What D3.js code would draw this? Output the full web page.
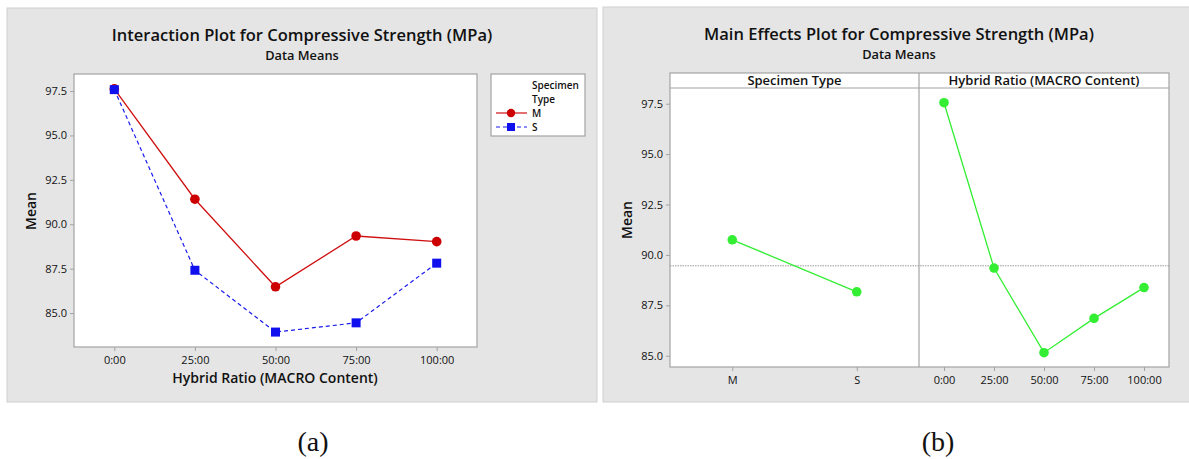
<!DOCTYPE html>
<html>
<head>
<meta charset="utf-8">
<script src="https://cdn.jsdelivr.net/npm/d3@7"></script>
<style>
  body { margin: 0; background: #fff; }
  text { font-family: "Open Sans", "Noto Sans", sans-serif; fill: #111; }
</style>
</head>
<body>
<div id="root"></div>
<script>
// data
var ratios = ["0:00", "25:00", "50:00", "75:00", "100:00"];
var specimens = ["M", "S"];
var meanM = [97.62, 91.41, 86.48, 89.34, 89.02];
var meanS = [97.58, 87.41, 83.93, 84.45, 87.81];
var yTicks = [85.0, 87.5, 90.0, 92.5, 95.0, 97.5];
var specimenMeans = [90.75, 88.17];
var ratioMeans = [97.55, 89.35, 85.15, 86.85, 88.38];
var grandMean = 89.46;

var W = 1189, H = 459;
var svg = d3.select("#root").append("svg")
  .attr("width", W).attr("height", H);

var fmt = d3.format(".1f");
var frameCol = "#a3a3a3";

// ---------- (a) interaction plot ----------
svg.append("rect").attr("x", 7).attr("y", 8).attr("width", 590).attr("height", 394)
  .attr("fill", "#e5e5e5").attr("stroke", "#cfcfcf");

var a = { left: 74, right: 477, top: 74, bottom: 347 };
var xa = d3.scalePoint().domain(ratios).range([a.left, a.right]).padding(0.5);
var ya = d3.scaleLinear().domain([83.09, 98.46]).range([a.bottom, a.top]);

svg.append("rect").attr("x", a.left).attr("y", a.top)
  .attr("width", a.right - a.left).attr("height", a.bottom - a.top)
  .attr("fill", "#fff").attr("stroke", frameCol).attr("stroke-width", 1.2);

var gyA = svg.append("g").attr("transform", "translate(" + a.left + ",0)")
  .call(d3.axisLeft(ya).tickValues(yTicks).tickFormat(fmt).tickSize(4).tickPadding(3));
var gxA = svg.append("g").attr("transform", "translate(0," + a.bottom + ")")
  .call(d3.axisBottom(xa).tickSize(4).tickPadding(5));
[gyA, gxA].forEach(function(g) {
  g.select(".domain").remove();
  g.selectAll("line").attr("stroke", frameCol);
  g.selectAll("text").attr("font-size", "11px").attr("fill", "#111");
});

var lineA = d3.line().x(function(d, i) { return xa(ratios[i]); }).y(function(d) { return ya(d); });

svg.append("path").datum(meanM).attr("d", lineA)
  .attr("fill", "none").attr("stroke", "#d01010").attr("stroke-width", 1.3);
svg.append("path").datum(meanS).attr("d", lineA)
  .attr("fill", "none").attr("stroke", "#1a1aee").attr("stroke-width", 1.2)
  .attr("stroke-dasharray", "4,3");

svg.selectAll(".ptM").data(meanM).enter().append("circle")
  .attr("cx", function(d, i) { return xa(ratios[i]); })
  .attr("cy", function(d) { return ya(d); })
  .attr("r", 4.8).attr("fill", "#cc0000");
svg.selectAll(".ptS").data(meanS).enter().append("rect")
  .attr("x", function(d, i) { return xa(ratios[i]) - 4.5; })
  .attr("y", function(d) { return ya(d) - 4.5; })
  .attr("width", 9).attr("height", 9).attr("fill", "#1010ee");

svg.append("text").attr("x", 302).attr("y", 41).attr("text-anchor", "middle")
  .attr("font-size", "16.5px").attr("font-weight", 600)
  .text("Interaction Plot for Compressive Strength (MPa)");
svg.append("text").attr("x", 302).attr("y", 60).attr("text-anchor", "middle")
  .attr("font-size", "12.8px").attr("font-weight", 600).text("Data Means");
svg.append("text").attr("transform", "translate(36,211) rotate(-90)")
  .attr("text-anchor", "middle").attr("font-size", "14px").attr("font-weight", 600).text("Mean");
svg.append("text").attr("x", 275).attr("y", 383).attr("text-anchor", "middle")
  .attr("font-size", "14px").attr("font-weight", 600).text("Hybrid Ratio (MACRO Content)");

// legend
var lg = svg.append("g");
lg.append("rect").attr("x", 491).attr("y", 74).attr("width", 94).attr("height", 62)
  .attr("fill", "#fff").attr("stroke", frameCol).attr("stroke-width", 1.2);
lg.append("text").attr("x", 532).attr("y", 89).attr("font-size", "10px").attr("font-weight", 600).text("Specimen");
lg.append("text").attr("x", 532).attr("y", 103).attr("font-size", "10px").attr("font-weight", 600).text("Type");
var legY = d3.scalePoint().domain(specimens).range([113, 127]);
specimens.forEach(function(s, i) {
  var yy = legY(s);
  lg.append("line").attr("x1", 496).attr("x2", 527).attr("y1", yy).attr("y2", yy)
    .attr("stroke", i === 0 ? "#d01010" : "#1a1aee").attr("stroke-width", 1.2)
    .attr("stroke-dasharray", i === 0 ? null : "4,3");
  if (i === 0) lg.append("circle").attr("cx", 511).attr("cy", yy).attr("r", 4.2).attr("fill", "#cc0000");
  else lg.append("rect").attr("x", 507).attr("y", yy - 4).attr("width", 8).attr("height", 8).attr("fill", "#1010ee");
  lg.append("text").attr("x", 532).attr("y", yy + 3.5).attr("font-size", "10px").attr("font-weight", 600).text(s);
});

// ---------- (b) main effects plot ----------
svg.append("rect").attr("x", 603).attr("y", 7).attr("width", 590).attr("height", 395)
  .attr("fill", "#e5e5e5").attr("stroke", "#cfcfcf");

var b = { left: 670, mid: 919, right: 1169, top: 73, strip: 88, bottom: 367 };
var yb = d3.scaleLinear().domain([84.44, 98.28]).range([b.bottom, b.strip]);
var xb1 = d3.scalePoint().domain(specimens).range([b.left, b.mid]).padding(0.5);
var xb2 = d3.scalePoint().domain(ratios).range([b.mid, b.right]).padding(0.5);

svg.append("rect").attr("x", b.left).attr("y", b.top)
  .attr("width", b.right - b.left).attr("height", b.bottom - b.top)
  .attr("fill", "#fff").attr("stroke", frameCol).attr("stroke-width", 1.2);
svg.append("line").attr("x1", b.left).attr("x2", b.right).attr("y1", b.strip).attr("y2", b.strip)
  .attr("stroke", frameCol).attr("stroke-width", 1.2);
svg.append("line").attr("x1", b.mid).attr("x2", b.mid).attr("y1", b.top).attr("y2", b.bottom)
  .attr("stroke", frameCol).attr("stroke-width", 1.2);

svg.append("text").attr("x", (b.left + b.mid) / 2).attr("y", 85).attr("text-anchor", "middle")
  .attr("font-size", "13px").attr("font-weight", 600).text("Specimen Type");
svg.append("text").attr("x", (b.mid + b.right) / 2).attr("y", 85).attr("text-anchor", "middle")
  .attr("font-size", "13px").attr("font-weight", 600).text("Hybrid Ratio (MACRO Content)");

// grand mean reference line
svg.append("line").attr("x1", b.left).attr("x2", b.right)
  .attr("y1", yb(grandMean)).attr("y2", yb(grandMean))
  .attr("stroke", "#9a9a9a").attr("stroke-width", 1).attr("stroke-dasharray", "1.5,1");

var gyB = svg.append("g").attr("transform", "translate(" + b.left + ",0)")
  .call(d3.axisLeft(yb).tickValues(yTicks).tickFormat(fmt).tickSize(4).tickPadding(3));
var gxB1 = svg.append("g").attr("transform", "translate(0," + b.bottom + ")")
  .call(d3.axisBottom(xb1).tickSize(4).tickPadding(5));
var gxB2 = svg.append("g").attr("transform", "translate(0," + b.bottom + ")")
  .call(d3.axisBottom(xb2).tickSize(4).tickPadding(5));
[gyB, gxB1, gxB2].forEach(function(g) {
  g.select(".domain").remove();
  g.selectAll("line").attr("stroke", frameCol);
  g.selectAll("text").attr("font-size", "11px").attr("fill", "#111");
});

var green = "#33ee33";
var line1 = d3.line().x(function(d, i) { return xb1(specimens[i]); }).y(function(d) { return yb(d); });
var line2 = d3.line().x(function(d, i) { return xb2(ratios[i]); }).y(function(d) { return yb(d); });
svg.append("path").datum(specimenMeans).attr("d", line1)
  .attr("fill", "none").attr("stroke", green).attr("stroke-width", 1.3);
svg.append("path").datum(ratioMeans).attr("d", line2)
  .attr("fill", "none").attr("stroke", green).attr("stroke-width", 1.3);
svg.selectAll(".pb1").data(specimenMeans).enter().append("circle")
  .attr("cx", function(d, i) { return xb1(specimens[i]); })
  .attr("cy", function(d) { return yb(d); })
  .attr("r", 4.8).attr("fill", green);
svg.selectAll(".pb2").data(ratioMeans).enter().append("circle")
  .attr("cx", function(d, i) { return xb2(ratios[i]); })
  .attr("cy", function(d) { return yb(d); })
  .attr("r", 4.8).attr("fill", green);

svg.append("text").attr("x", 899).attr("y", 40).attr("text-anchor", "middle")
  .attr("font-size", "16.5px").attr("font-weight", 600)
  .text("Main Effects Plot for Compressive Strength (MPa)");
svg.append("text").attr("x", 899).attr("y", 59).attr("text-anchor", "middle")
  .attr("font-size", "12.8px").attr("font-weight", 600).text("Data Means");
svg.append("text").attr("transform", "translate(632,220) rotate(-90)")
  .attr("text-anchor", "middle").attr("font-size", "14px").attr("font-weight", 600).text("Mean");

// captions
svg.append("text").attr("x", 313).attr("y", 451).attr("text-anchor", "middle")
  .style("font-family", "'Liberation Serif', serif").attr("font-size", "28px").text("(a)");
svg.append("text").attr("x", 938).attr("y", 451).attr("text-anchor", "middle")
  .style("font-family", "'Liberation Serif', serif").attr("font-size", "28px").text("(b)");
</script>
</body>
</html>
